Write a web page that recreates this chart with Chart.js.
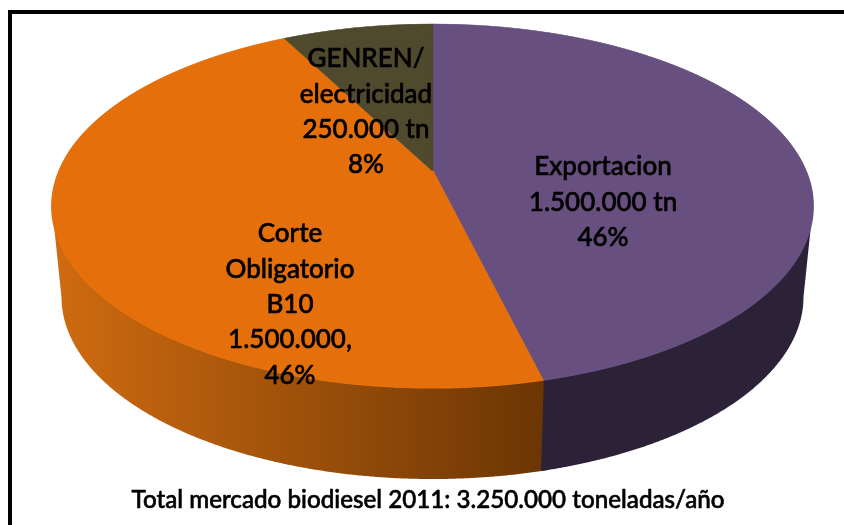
<!DOCTYPE html>
<html><head><meta charset="utf-8">
<script src="https://cdn.jsdelivr.net/npm/chart.js@4"></script>
<style>html,body{margin:0;padding:0;background:#fff}canvas{display:block}</style>
</head><body><canvas id="c" width="844" height="525"></canvas>
<script>
const categories = ['Exportacion', 'Corte Obligatorio B10', 'GENREN/ electricidad'];
const tonnes = [1500000, 1500000, 250000];
const topColors = ['#67507f', '#e5700b', '#4f4a2d'];
const labelLines = [
  ['Exportacion', '1.500.000 tn', '46%'],
  ['Corte', 'Obligatorio', 'B10', '1.500.000,', '46%'],
  ['GENREN/', 'electricidad', '250.000 tn', '8%']
];
const footer = 'Total mercado biodiesel 2011: 3.250.000 toneladas/año';

// view geometry of the tilted pie (page pixels)
const VIEW = {cx: 432.5, cy: 170.5, a: 373.2, b: 175.1, k: 0.195, depth: 91, shrink: 0.975};
const LABEL_POS = [{x: 603, y: 167}, {x: 290, y: 234}, {x: 366, y: 59}];
const LABEL_LINE = 35.3;
const FONT = '500 26px Lato, Carlito, sans-serif';
const FOOTER_FONT = '500 24.2px Lato, Carlito, sans-serif';
const FOOTER_POS = {x: 428, y: 500};

function project(theta) {
  const u = Math.cos(theta), v = Math.sin(theta), w = 1 - VIEW.k * v;
  return {x: VIEW.cx + VIEW.a * u / w, y: VIEW.cy + VIEW.b * v / w};
}

function heavyText(ctx, s, x, y) {
  ctx.strokeText(s, x, y);
  ctx.fillText(s, x, y);
}

const tiltedPie = {
  id: 'tiltedPie',
  beforeDatasetDraw(chart, args) {
    const ctx = chart.ctx;
    const arcs = chart.getDatasetMeta(args.index).data;
    const R = arcs[0].outerRadius, sx0 = arcs[0].x, sy0 = arcs[0].y;

    // side wall: front-facing part of the library's arc angles, last arc first
    const orange = ctx.createLinearGradient(55, 0, 541, 0);
    orange.addColorStop(0, '#cf6b10');
    orange.addColorStop(1, '#6c3604');
    const wallStyles = ['#2c2238', orange, '#2c2a18'];
    const low = p => ({x: VIEW.cx + (p.x - VIEW.cx) * VIEW.shrink, y: p.y + VIEW.depth});
    const lap = Math.PI / 180;
    for (let i = arcs.length - 1; i >= 0; i--) {
      const el = arcs[i], rim = [];
      for (let t = el.startAngle - lap; t <= el.endAngle + 1e-9; t += Math.PI / 720) {
        if (Math.sin(t) >= VIEW.k) rim.push(project(t));
      }
      if (rim.length < 2) continue;
      ctx.beginPath();
      rim.forEach((p, j) => j ? ctx.lineTo(p.x, p.y) : ctx.moveTo(p.x, p.y));
      rim.slice().reverse().forEach(p => { const q = low(p); ctx.lineTo(q.x, q.y); });
      ctx.closePath();
      ctx.fillStyle = wallStyles[i];
      ctx.fill();
    }

    // top face: the library's arcs, one scanline at a time under the view transform
    for (let y = 20; y < 395; y++) {
      const dy = y + 0.5 - VIEW.cy;
      const v = dy / (VIEW.b + VIEW.k * dy);
      if (Math.abs(v) > 1.01) continue;
      const w = 1 - VIEW.k * v;
      const sx = VIEW.a / w / R, sy = VIEW.b / (w * w) / R;
      ctx.save();
      ctx.beginPath(); ctx.rect(0, y, 844, 1); ctx.clip();
      ctx.setTransform(sx, 0, 0, sy, VIEW.cx - sx * sx0, y + 0.5 - sy * (sy0 + R * v));
      arcs.forEach(el => el.draw(ctx));
      ctx.restore();
    }
    return false;
  },
  afterDraw(chart) {
    const ctx = chart.ctx;
    ctx.save();
    ctx.fillStyle = ctx.strokeStyle = '#000';
    ctx.lineWidth = 0.6;
    ctx.lineJoin = 'round';
    ctx.textAlign = 'center';
    ctx.textBaseline = 'middle';
    ctx.font = FONT;
    labelLines.forEach((lines, i) => lines.forEach((s, j) =>
      heavyText(ctx, s, LABEL_POS[i].x, LABEL_POS[i].y + j * LABEL_LINE)));
    ctx.font = FOOTER_FONT;
    heavyText(ctx, footer, FOOTER_POS.x, FOOTER_POS.y);
    // frame: top and left edges only
    ctx.fillRect(8, 10, 836, 4);
    ctx.fillRect(8, 10, 4, 515);
    ctx.restore();
  }
};

new Chart(document.getElementById('c'), {
  type: 'pie',
  data: {labels: categories, datasets: [{data: tonnes, backgroundColor: topColors, borderColor: topColors, borderWidth: 1}]},
  options: {
    responsive: false, animation: false, devicePixelRatio: 1,
    layout: {padding: {top: 16, bottom: 40, left: 60, right: 60}},
    plugins: {legend: {display: false}, tooltip: {enabled: false}}
  },
  plugins: [tiltedPie]
});
</script></body></html>
